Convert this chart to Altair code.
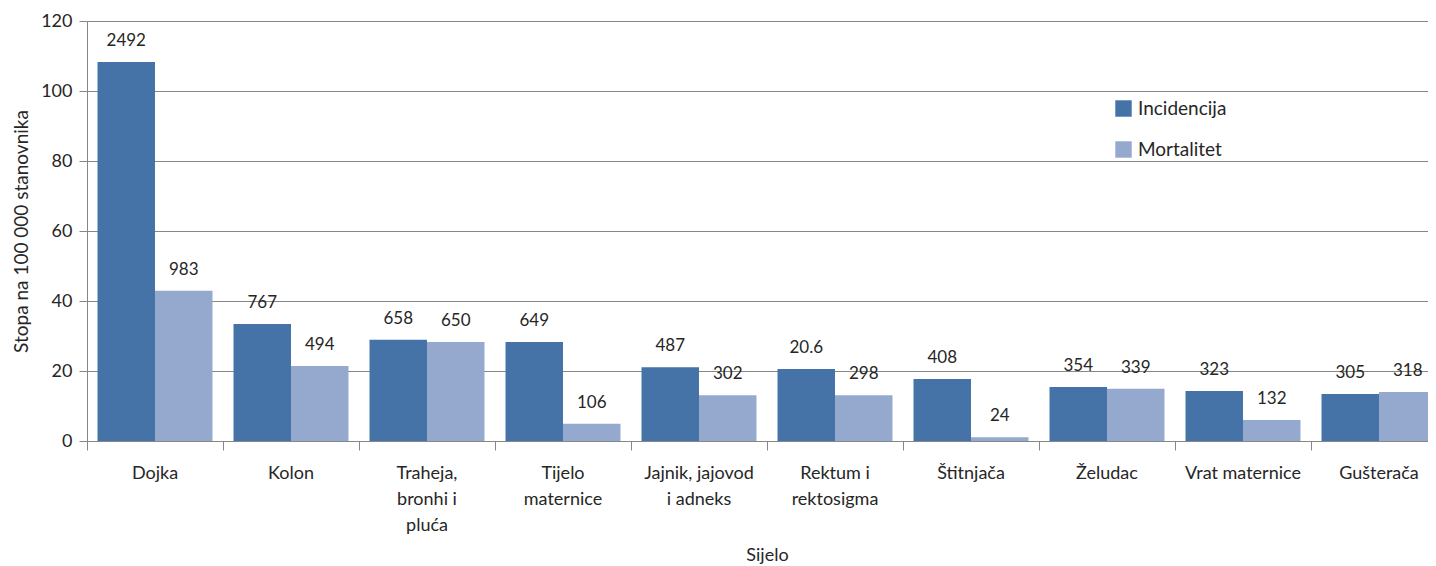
import altair as alt
import pandas as pd

categories = ["Dojka", "Kolon", "Traheja,\nbronhi i\npluća", "Tijelo\nmaternice",
              "Jajnik, jajovod\ni adneks", "Rektum i\nrektosigma", "Štitnjača",
              "Želudac", "Vrat maternice", "Gušterača"]
series = ["Incidencija", "Mortalitet"]
incidencija = [108.3, 33.4, 28.9, 28.3, 21.1, 20.6, 17.7, 15.4, 14.3, 13.4]
mortalitet = [42.9, 21.4, 28.3, 4.9, 13.1, 13.1, 1.1, 14.9, 6.0, 14.0]
inc_labels = ["2492", "767", "658", "649", "487", "20.6", "408", "354", "323", "305"]
mort_labels = ["983", "494", "650", "106", "302", "298", "24", "339", "132", "318"]
colors = ["#4573A7", "#95A9CF"]

rows = []
for i, c in enumerate(categories):
    rows.append({"Sijelo": c, "Serija": series[0], "v": incidencija[i], "lab": inc_labels[i]})
    rows.append({"Sijelo": c, "Serija": series[1], "v": mortalitet[i], "lab": mort_labels[i]})
df = pd.DataFrame(rows)

FONT = "Lato"
TXT = "#262626"
GRID = "#868686"

x = alt.X("Sijelo:N", sort=categories, title="Sijelo",
          scale=alt.Scale(paddingInner=0, paddingOuter=0, range=[0, 1360]),
          axis=alt.Axis(labelAngle=0, labelExpr="split(datum.label, '\\n')",
                        labelLineHeight=26, labelPadding=14, tickSize=9, tickColor=GRID,
                        domain=False, bandPosition=0, labelFont=FONT, labelFontSize=18,
                        labelColor=TXT, titleFont=FONT, titleFontSize=18, titleFontWeight="normal",
                        titleColor=TXT, titlePadding=12, labelBaseline="top"))
xo = alt.XOffset("Serija:N", sort=series,
                 scale=alt.Scale(paddingInner=0, paddingOuter=0.183))
y = alt.Y("v:Q", title="Stopa na 100 000 stanovnika",
          scale=alt.Scale(domain=[0, 120]),
          axis=alt.Axis(values=[0, 20, 40, 60, 80, 100, 120], tickSize=8, tickColor=GRID,
                        gridColor=GRID, gridWidth=1, domainColor=GRID, labelFont=FONT,
                        labelFontSize=18, labelColor=TXT, labelPadding=7, titleFont=FONT,
                        titleFontSize=19, titleFontWeight="normal", titleColor=TXT,
                        titlePadding=9))

bars = alt.Chart(df).mark_bar(size=57.5).encode(
    x=x, xOffset=xo, y=y,
    color=alt.Color("Serija:N", sort=series, scale=alt.Scale(domain=series, range=colors),
                    legend=alt.Legend(title=None, orient="none", legendX=1027, legendY=78,
                                      symbolType="square", symbolSize=270, symbolStrokeWidth=0,
                                      labelFont=FONT, labelFontSize=19, labelColor=TXT,
                                      rowPadding=21, symbolOffset=0, labelOffset=5))
)

text = alt.Chart(df).mark_text(font=FONT, fontSize=17, color=TXT, dy=-21, baseline="middle").encode(
    x=alt.X("Sijelo:N", sort=categories), xOffset=xo, y="v:Q", text="lab:N"
)

chart = alt.layer(bars, text).properties(
    width=1341, height=420,
    autosize=alt.AutoSizeParams(type="none"),
    padding={"left": 79, "top": 13, "right": 0, "bottom": 125},
).configure_view(stroke=None).configure_axis(grid=True).configure_axisX(grid=False)

chart.save("out.html", embed_options={"renderer": "svg", "actions": False})
